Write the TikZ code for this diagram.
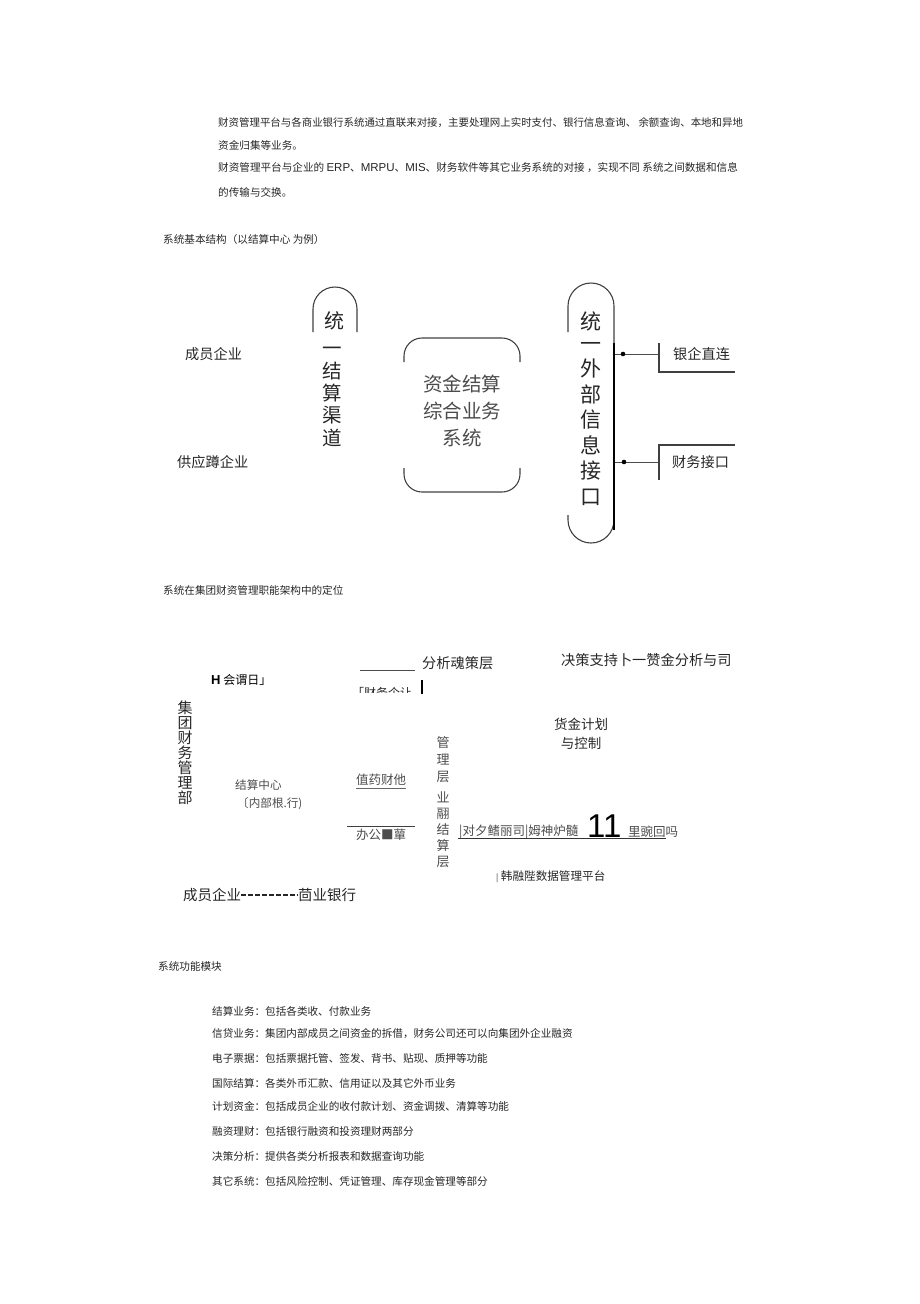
\documentclass[tikz,border=0pt]{standalone}
\usepackage{fontspec}
\setmainfont{Noto Sans CJK SC}
\newfontfamily\latinfont{Liberation Sans}
\tikzset{
  body/.style={inner sep=0pt, anchor=west, text=black!85, font=\fontsize{10.6}{12}\selectfont},
  lbl/.style={inner sep=0pt, anchor=west, text=black!85, font=\fontsize{14.2}{16}\selectfont},
  small/.style={inner sep=0pt, anchor=west, text=black!70, font=\fontsize{11.6}{13}\selectfont},
  vert/.style={inner sep=0pt, align=center, text=black!85},
  frame/.style={draw=black!75, line width=1.1pt},
  link/.style={draw=black!70, line width=0.9pt}
}
\begin{document}
\begin{tikzpicture}[x=1pt,y=-1pt]
  \useasboundingbox (0,0) rectangle (920,1304);
  % paragraph
  \node (para1) at (218,123) [body, font=\fontsize{10.45}{12}\selectfont] {财资管理平台与各商业银行系统通过直联来对接，主要处理网上实时支付、银行信息查询、 余额查询、本地和异地};
  \node (para2) at (218,145) [body] {资金归集等业务。};
  \node (para3) at (218,168) [body] {财资管理平台与企业的 {\latinfont\fontsize{11.5}{12}\selectfont ERP}、{\latinfont\fontsize{11.5}{12}\selectfont MRPU}、{\latinfont\fontsize{11.5}{12}\selectfont MIS}、财务软件等其它业务系统的对接 ，实现不同 系统之间数据和信息};
  \node (para4) at (218,192) [body] {的传输与交换。};
  \node (head1) at (163,239) [body] {系统基本结构（以结算中心 为例）};

  % basic structure
  \node (cyqy) at (185,354) [lbl] {成员企业};
  \node (gyqy) at (177,462) [lbl] {供应蹲企业};
  \draw[frame, rounded corners=22] (313,332) -- (313,287) -- (357,287) -- (357,332);
  \node (tong1) at (334,321) [vert, font=\fontsize{20}{22}\selectfont] {统};
  \node (jsqd) at (332,397) [vert, font=\fontsize{19.5}{22.3}\selectfont] {一\\结\\算\\渠\\道};
  \draw[frame, rounded corners=18] (404,362) -- (404,338) -- (520,338) -- (520,362);
  \draw[frame, rounded corners=18] (404,468) -- (404,492) -- (520,492) -- (520,468);
  \node (zjjs) at (462,411) [vert, text=black!70, font=\fontsize{19.5}{27}\selectfont] {资金结算\\综合业务\\系统};
  \draw[frame, rounded corners=23] (568,332) -- (568,283) -- (614,283) -- (614,343);
  \draw[frame, rounded corners=23] (568,515) -- (568,543) -- (614,543) -- (614,525);
  \draw[black, line width=2.2pt] (614,343) -- (614,530);
  \node (tong2) at (591,321) [vert, font=\fontsize{21}{22}\selectfont] {统};
  \node (twxx) at (591,424) [vert, font=\fontsize{21}{25.5}\selectfont] {一\\外\\部\\信\\息\\接\\口};
  \coordinate (bus1) at (615,354); \coordinate (brk1) at (659,354);
  \coordinate (bus2) at (615,462); \coordinate (brk2) at (659,462);
  \draw[link] (bus1) -- (brk1); \fill (623,354) circle (2.3);
  \draw[link] (bus2) -- (brk2); \fill (624,462) circle (2.3);
  \draw[frame] (659,343) -- (659,372) -- (735,372);
  \draw[frame] (735,445) -- (659,445) -- (659,480);
  \node (yqzl) at (673,354) [lbl] {银企直连};
  \node (cwjk) at (672,462) [lbl] {财务接口};

  \node (head2) at (163,590) [body] {系统在集团财资管理职能架构中的定位};

  % position in group
  \draw[black!70, line width=0.8pt] (360,670) -- (415,670);
  \node (fxjc) at (422,663) [lbl] {分析魂策层};
  \node (jczc) at (561,660) [lbl] {决策支持卜一赞金分析与司};
  \node (hui) at (211,680) [inner sep=0pt, anchor=west, font=\fontsize{12}{13}\selectfont] {{\latinfont\bfseries\fontsize{13}{13}\selectfont H} 会谓日」};
  \begin{scope}
    \clip (340,685) rectangle (418,692.5);
    \node (cwkj) at (352,693) [small, text=black!85, font=\fontsize{12}{13}\selectfont] {「财务个让};
  \end{scope}
  \draw[black, line width=2.6pt] (422,680) -- (422,694);
  \node (jtcw) at (185,753) [vert, font=\fontsize{15}{15}\selectfont] {集\\团\\财\\务\\管\\理\\部};
  \node (zjjh) at (581,734) [vert, font=\fontsize{13.5}{19.5}\selectfont] {货金计划\\与控制};
  \node (glc) at (443,760) [vert, text=black!70, font=\fontsize{13}{17}\selectfont] {管\\理\\层};
  \node (ywjs) at (443,830) [vert, text=black!70, font=\fontsize{13}{16}\selectfont] {业\\翮\\结\\算\\层};
  \node (jszx) at (235,785) [small] {结算中心};
  \node (nbyh) at (237,804) [small] {〔内部根.行)};
  \node (zycw) at (356,780) [small, font=\fontsize{12.5}{13}\selectfont] {值药财他};
  \draw[black!60, line width=0.7pt] (356,788) -- (406,788);
  \draw[black!75, line width=0.8pt] (347,826) -- (415,826);
  \node (bgs) at (356,835) [small, font=\fontsize{12.5}{13}\selectfont] {办公■蕇};
  \node (dwrs) at (459,832) [small, font=\fontsize{12.5}{13}\selectfont] {|对夕鳍丽司|姆神炉髓};
  \node (eleven) at (587,826) [inner sep=0pt, anchor=west, font=\latinfont\fontsize{33}{33}\selectfont] {11};
  \node (lwhm) at (628,832) [small, font=\fontsize{12.5}{13}\selectfont] {里豌回吗};
  \draw[black!80, line width=0.9pt] (458,838.5) -- (666,838.5);
  \node (sjpt) at (496,877) [small, text=black!85] {{\fontsize{8}{9}\selectfont |} 韩融陛数据管理平台};
  \node (cyqy2) at (183,895) [lbl, font=\fontsize{14.5}{16}\selectfont] {成员企业};
  \node (syyh) at (298,895) [lbl, font=\fontsize{14.5}{16}\selectfont] {茴业银行};
  \draw[black!85, line width=1.3pt, dash pattern=on 5pt off 2pt] (cyqy2.east) -- (syyh.west);

  \node (head3) at (158,966) [body] {系统功能模块};

  % function modules
  \node (mod1) at (212,1011) [body] {结算业务：包括各类收、付款业务};
  \node (mod2) at (212,1034) [body] {信贷业务：集团内部成员之间资金的拆借，财务公司还可以向集团外企业融资};
  \node (mod3) at (212,1058) [body] {电子票据：包括票据托管、签发、背书、贴现、质押等功能};
  \node (mod4) at (212,1083) [body] {国际结算：各类外币汇款、信用证以及其它外币业务};
  \node (mod5) at (212,1106) [body] {计划资金：包括成员企业的收付款计划、资金调拨、清算等功能};
  \node (mod6) at (212,1131) [body] {融资理财：包括银行融资和投资理财两部分};
  \node (mod7) at (212,1156) [body] {决策分析：提供各类分析报表和数据查询功能};
  \node (mod8) at (212,1181) [body] {其它系统：包括风险控制、凭证管理、库存现金管理等部分};
\end{tikzpicture}
\end{document}
